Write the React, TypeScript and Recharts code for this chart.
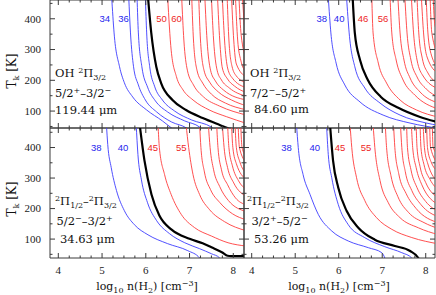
import React from "react";
import { LineChart, Line, XAxis, YAxis, ReferenceDot, ReferenceLine } from "recharts";

type Curve = [number, number][];

// ---------------- data (n = log10 n(H2), t = Tk) ----------------
const xTicks = [4, 4.25, 4.5, 4.75, 5, 5.25, 5.5, 5.75, 6, 6.25, 6.5, 6.75, 7, 7.25, 7.5, 7.75, 8];
const yTicks = [50, 100, 150, 200, 250, 300, 350, 400, 450];

// top-left: OH 2Pi3/2 5/2+-3/2- 119.44 um
const tlBlue: Curve[] = [
  [[5.22, 470], [5.275, 354], [5.4, 244], [5.51, 192], [5.7, 146], [6.02, 103.5], [6.38, 68], [6.59, 45], [6.62, 42]],
  [[5.61, 470], [5.65, 354], [5.72, 244], [5.83, 185], [5.99, 136], [6.25, 97], [6.59, 64.5], [6.93, 45], [6.96, 42]],
  [[5.8, 470], [5.83, 354], [5.91, 244], [6.04, 178], [6.22, 133], [6.5, 97], [6.89, 68], [7.23, 48], [7.28, 42]],
  [[5.99, 470], [6.02, 354], [6.09, 244], [6.2, 181], [6.38, 136], [6.66, 100], [7.05, 71], [7.5, 48], [7.56, 42]],
];
const tlBlack: Curve = [[6.05, 470], [6.125, 354], [6.24, 244], [6.35, 191], [6.61, 136], [6.92, 103.5], [7.3, 77.5], [7.69, 55], [7.87, 45], [7.95, 42]];
const tlRed: Curve[] = [
  [[6.5, 470], [6.58, 298], [6.7, 212], [6.85, 169], [7.08, 136], [7.46, 103], [7.84, 82], [8.3, 60]],
  [[6.82, 470], [6.87, 331], [6.95, 233], [7.09, 185], [7.32, 146], [7.69, 116], [8.3, 87]],
  [[7.05, 470], [7.09, 331], [7.17, 233], [7.3, 191], [7.5, 155], [7.82, 126], [8.3, 104]],
  [[7.21, 470], [7.25, 331], [7.33, 233], [7.46, 194], [7.66, 162], [7.96, 136], [8.3, 117]],
  [[7.35, 470], [7.4, 331], [7.48, 233], [7.59, 198], [7.78, 168], [8.3, 136]],
  [[7.5, 470], [7.55, 331], [7.63, 233], [7.73, 201], [7.91, 175], [8.3, 148]],
  [[7.64, 470], [7.69, 331], [7.75, 240], [7.87, 204], [8.03, 181], [8.3, 160]],
  [[7.75, 470], [7.8, 331], [7.87, 240], [7.98, 207], [8.3, 176]],
  [[7.86, 470], [7.9, 331], [7.97, 246], [8.07, 214], [8.3, 192]],
  [[7.96, 470], [8.01, 331], [8.07, 253], [8.3, 210]],
  [[8.05, 470], [8.1, 331], [8.17, 266], [8.3, 225]],
  [[8.13, 470], [8.18, 347], [8.3, 270]],
  [[8.21, 470], [8.25, 380]],
];
const tlLabels = [
  { n: 5.06, t: 400, text: "34", blue: true },
  { n: 5.49, t: 400, text: "36", blue: true },
  { n: 6.36, t: 400, text: "50", blue: false },
  { n: 6.7, t: 400, text: "60", blue: false },
];

// top-right: OH 2Pi3/2 7/2- - 5/2+ 84.60 um
const trBlue: Curve[] = [
  [[5.76, 470], [5.82, 354], [5.94, 256], [6.14, 185], [6.49, 129.5], [7.02, 87], [7.64, 61], [8.3, 44]],
  [[6.18, 470], [6.24, 354], [6.37, 244], [6.6, 175], [6.95, 126], [7.41, 87], [8.02, 61], [8.3, 53]],
];
const trBlack: Curve = [[6.32, 470], [6.37, 354], [6.49, 266], [6.67, 201], [6.97, 146], [7.38, 110], [7.87, 81], [8.3, 63]];
const trRed: Curve[] = [
  [[6.76, 470], [6.79, 354], [6.91, 256], [7.1, 191], [7.41, 136], [7.79, 103.5], [8.3, 80]],
  [[7.18, 470], [7.22, 354], [7.32, 266], [7.48, 201], [7.75, 152], [8.3, 106]],
  [[7.36, 470], [7.41, 354], [7.5, 266], [7.64, 207.5], [7.87, 162], [8.3, 126]],
  [[7.52, 470], [7.57, 354], [7.66, 266], [7.8, 211], [8.01, 172], [8.3, 145]],
  [[7.67, 470], [7.72, 354], [7.8, 266], [7.94, 214], [8.3, 172]],
  [[7.8, 470], [7.84, 354], [7.92, 272], [8.05, 224], [8.3, 190]],
  [[7.9, 470], [7.95, 354], [8.03, 276], [8.3, 220]],
  [[8.01, 470], [8.05, 354], [8.13, 282], [8.3, 240]],
  [[8.1, 470], [8.14, 354], [8.3, 280]],
  [[8.17, 470], [8.21, 380], [8.3, 350]],
];
const trLabels = [
  { n: 5.61, t: 400, text: "38", blue: true },
  { n: 6.01, t: 400, text: "40", blue: true },
  { n: 6.56, t: 400, text: "46", blue: false },
  { n: 7.02, t: 400, text: "56", blue: false },
];

// bottom-left: 2Pi1/2-2Pi3/2 5/2- - 3/2+ 34.63 um
const blBlue: Curve[] = [
  [[5.1, 475], [5.13, 410], [5.21, 334], [5.33, 259], [5.51, 193], [5.74, 147], [6.05, 114], [6.5, 85], [6.96, 62], [7.23, 38], [7.26, 30]],
  [[5.78, 475], [5.82, 377], [5.9, 294], [6.04, 219], [6.25, 160], [6.54, 118], [6.89, 88], [7.23, 68.5], [7.5, 52], [7.69, 38], [7.72, 30]],
];
const blBlack: Curve = [[5.86, 475], [5.97, 357], [6.13, 246], [6.31, 177], [6.59, 131], [7.0, 101], [7.3, 86], [7.5, 73], [7.75, 56], [7.87, 45.5], [7.95, 44], [8.3, 44]];
const blRed: Curve[] = [
  [[6.28, 475], [6.31, 400], [6.43, 311], [6.58, 246], [6.81, 181], [7.11, 138], [7.5, 110], [7.88, 88], [8.3, 77]],
  [[6.92, 475], [6.98, 400], [7.08, 311], [7.23, 246], [7.46, 196], [7.8, 157], [8.3, 127]],
  [[7.23, 475], [7.26, 400], [7.34, 320], [7.48, 262], [7.69, 220], [7.98, 183], [8.3, 163]],
  [[7.43, 475], [7.47, 400], [7.55, 327], [7.69, 272], [7.89, 226], [8.3, 190]],
  [[7.62, 475], [7.65, 400], [7.73, 327], [7.87, 278], [8.05, 235], [8.3, 212]],
  [[7.75, 475], [7.79, 400], [7.87, 334], [8.01, 284], [8.3, 240]],
  [[7.87, 475], [7.9, 400], [7.98, 340], [8.12, 291], [8.3, 262]],
  [[7.96, 475], [7.99, 400], [8.07, 347], [8.3, 295]],
  [[8.04, 475], [8.07, 400], [8.15, 353], [8.3, 315]],
  [[8.11, 475], [8.14, 400], [8.3, 350]],
  [[8.17, 475], [8.2, 400], [8.3, 370]],
];
const blLabels = [
  { n: 4.87, t: 400, text: "38", blue: true },
  { n: 5.48, t: 400, text: "40", blue: true },
  { n: 6.16, t: 400, text: "45", blue: false },
  { n: 6.81, t: 400, text: "55", blue: false },
];

// bottom-right: 2Pi1/2-2Pi3/2 3/2+ - 5/2- 53.26 um
const brBlue: Curve[] = [
  [[5.03, 475], [5.07, 400], [5.18, 312], [5.34, 246.5], [5.53, 181], [5.84, 126.5], [6.22, 93.7], [6.68, 71.8], [6.99, 55.4], [7.06, 38], [7.08, 30]],
  [[5.72, 475], [5.76, 377], [5.84, 301], [5.99, 213], [6.22, 147], [6.6, 104.6], [7.06, 75], [7.45, 55.4], [7.68, 38], [7.7, 30]],
];
const brBlack: Curve = [[5.8, 475], [5.87, 357], [5.99, 268.5], [6.18, 193], [6.45, 137.4], [6.83, 98], [7.29, 77.3], [7.64, 61], [7.83, 38], [7.85, 30]];
const brRed: Curve[] = [
  [[6.26, 475], [6.3, 400], [6.41, 301], [6.6, 226], [6.87, 170], [7.22, 132], [7.68, 105], [8.3, 84]],
  [[6.79, 475], [6.83, 400], [6.95, 291.5], [7.14, 219], [7.41, 170], [7.83, 137], [8.3, 114]],
  [[7.07, 475], [7.1, 400], [7.2, 308], [7.36, 239], [7.61, 186.5], [7.96, 154], [8.3, 134]],
  [[7.26, 475], [7.29, 400], [7.38, 314], [7.55, 249], [7.78, 200], [8.3, 153]],
  [[7.42, 475], [7.45, 400], [7.53, 321], [7.68, 259], [7.89, 213], [8.3, 172]],
  [[7.56, 475], [7.58, 400], [7.66, 327.5], [7.8, 268.5], [8.0, 223], [8.3, 190]],
  [[7.67, 475], [7.7, 400], [7.78, 334], [7.91, 278], [8.3, 212]],
  [[7.78, 475], [7.8, 400], [7.87, 337], [8.0, 285], [8.3, 235]],
  [[7.87, 475], [7.89, 400], [7.96, 344], [8.1, 295], [8.3, 260]],
  [[7.94, 475], [7.97, 400], [8.04, 350.5], [8.3, 285]],
  [[8.02, 475], [8.04, 400], [8.12, 354], [8.3, 320]],
  [[8.09, 475], [8.11, 400], [8.3, 345]],
  [[8.15, 475], [8.17, 400], [8.3, 375]],
];
const brLabels = [
  { n: 4.8, t: 400, text: "38", blue: true },
  { n: 5.45, t: 400, text: "40", blue: true },
  { n: 6.03, t: 400, text: "45", blue: false },
  { n: 6.63, t: 400, text: "55", blue: false },
];

// ---------------- styling ----------------
const W = 436;
const H = 295;
const FRAME = "#3a3a3a";
const BLUE = "#3c3cff";
const RED = "#ff3c3c";
const BLUE_TXT = "#2626ee";
const RED_TXT = "#ee2626";
const TICK_FONT = "'Liberation Serif', 'DejaVu Serif', serif";
const TXT_FONT = "'DejaVu Serif', 'Liberation Serif', serif";
const LBL_FONT = "'Liberation Sans', 'DejaVu Sans', sans-serif";

type PanelProps = {
  left: number; top: number; w: number; h: number;
  xDomain: [number, number]; yDomain: [number, number];
  blue: Curve[]; black: Curve; red: Curve[];
  labels: { n: number; t: number; text: string; blue: boolean }[];
  showX: boolean; showY: boolean;
};

const toPts = (c: Curve) => c.map(([n, t]) => ({ n, t }));

function Panel(p: PanelProps) {
  const xTick = (props: any) => {
    const v = props.payload.value as number;
    const major = Math.abs(v - Math.round(v)) < 1e-6;
    const len = major ? 5 : 2.5;
    const x = props.x, y = props.y;
    return (
      <g>
        <line x1={x} x2={x} y1={y} y2={y - len} stroke={FRAME} strokeWidth={1} />
        <line x1={x} x2={x} y1={y - p.h} y2={y - p.h + len} stroke={FRAME} strokeWidth={1} />
        {p.showX && major ? (
          <text x={x} y={y + 16} textAnchor="middle" fontFamily={TICK_FONT} fontSize={11} fill="#222">{v}</text>
        ) : null}
      </g>
    );
  };
  const yTick = (props: any) => {
    const v = props.payload.value as number;
    const major = v % 100 === 0;
    const len = major ? 5 : 2.5;
    const x = props.x, y = props.y;
    return (
      <g>
        <line x1={x} x2={x + len} y1={y} y2={y} stroke={FRAME} strokeWidth={1} />
        <line x1={x + p.w} x2={x + p.w - len} y1={y} y2={y} stroke={FRAME} strokeWidth={1} />
        {p.showY && major ? (
          <text x={x - 9} y={y + 3.8} textAnchor="end" fontFamily={TICK_FONT} fontSize={11} fill="#222">{v}</text>
        ) : null}
      </g>
    );
  };
  return (
    <div style={{ position: "absolute", left: 0, top: 0 }}>
      <LineChart
        width={W}
        height={H}
        margin={{ top: p.top, left: p.left - 1, right: W - p.left - p.w, bottom: H - p.top - p.h - 1 }}
      >
        <XAxis
          type="number" dataKey="n" domain={p.xDomain} allowDataOverflow ticks={xTicks} interval={0}
          height={1} tickSize={0} tickMargin={0} tickLine={false}
          axisLine={{ stroke: FRAME, strokeWidth: 1 }} tick={xTick}
        />
        <YAxis
          type="number" dataKey="t" domain={p.yDomain} allowDataOverflow ticks={yTicks} interval={0}
          width={1} tickSize={0} tickMargin={0} tickLine={false}
          axisLine={{ stroke: FRAME, strokeWidth: 1 }} tick={yTick}
        />
        <ReferenceLine y={p.yDomain[1]} stroke={FRAME} strokeWidth={1} />
        <ReferenceLine x={p.xDomain[1]} stroke={FRAME} strokeWidth={1} />
        {p.red.map((c, i) => (
          <Line key={"r" + i} data={toPts(c)} dataKey="t" type="monotoneX" stroke={RED} strokeWidth={0.9}
            dot={false} activeDot={false} isAnimationActive={false} />
        ))}
        {p.blue.map((c, i) => (
          <Line key={"b" + i} data={toPts(c)} dataKey="t" type="monotoneX" stroke={BLUE} strokeWidth={0.9}
            dot={false} activeDot={false} isAnimationActive={false} />
        ))}
        <Line data={toPts(p.black)} dataKey="t" type="monotoneX" stroke="#000" strokeWidth={2.2}
          dot={false} activeDot={false} isAnimationActive={false} />
        {p.labels.map((l, i) => (
          <ReferenceDot key={"l" + i} x={l.n} y={l.t} r={0}
            shape={(sp: any) => (
              <text x={sp.cx} y={sp.cy + 3.4} textAnchor="middle" fontFamily={LBL_FONT} fontSize={9.5}
                fill={l.blue ? BLUE_TXT : RED_TXT}>{l.text}</text>
            )} />
        ))}
      </LineChart>
    </div>
  );
}

const SUP = 8;
function Annotations() {
  const base = { fontFamily: TXT_FONT, fontSize: 11.5, fill: "#111" } as any;
  const title = { fontFamily: TXT_FONT, fontSize: 11, fill: "#111" } as any;
  const ytitle = { fontFamily: TXT_FONT, fontSize: 12, fill: "#111" } as any;
  const ohLine = (x: number, y: number) => (
    <text x={x} y={y} {...base}>
      OH <tspan dy={-4.5} fontSize={SUP}>2</tspan><tspan dy={4.5}>Π</tspan><tspan dy={3} fontSize={SUP}>3/2</tspan>
    </text>
  );
  const piLine = (x: number, y: number) => (
    <text x={x} y={y} {...base}>
      <tspan dy={-4.5} fontSize={SUP}>2</tspan><tspan dy={4.5}>Π</tspan><tspan dy={3} fontSize={SUP}>1/2</tspan>
      <tspan dy={-3}>–</tspan><tspan dy={-4.5} fontSize={SUP}>2</tspan><tspan dy={4.5}>Π</tspan>
      <tspan dy={3} fontSize={SUP}>3/2</tspan>
    </text>
  );
  const trans = (x: number, y: number, a: string, sa: string, b: string, sb: string) => (
    <text x={x} y={y} {...base}>
      {a}<tspan dy={-4.5} fontSize={SUP}>{sa}</tspan><tspan dy={4.5}>{"–" + b}</tspan>
      <tspan dy={-4.5} fontSize={SUP}>{sb}</tspan>
    </text>
  );
  const xTitle = (cx: number) => (
    <text x={cx} y={290} textAnchor="middle" {...title}>
      log<tspan dy={3} fontSize={SUP}>10</tspan><tspan dy={-3}> n(H</tspan><tspan dy={3} fontSize={SUP}>2</tspan>
      <tspan dy={-3}>) [cm</tspan><tspan dy={-4.5} fontSize={SUP}>−3</tspan><tspan dy={4.5}>]</tspan>
    </text>
  );
  const yTitle = (cy: number) => (
    <text x={16} y={cy} textAnchor="middle" transform={`rotate(-90 16 ${cy})`} {...ytitle}>
      T<tspan dy={3} fontSize={SUP}>k</tspan><tspan dy={-3}> [K]</tspan>
    </text>
  );
  return (
    <svg width={W} height={H} style={{ position: "absolute", left: 0, top: 0, pointerEvents: "none" }}>
      {ohLine(55, 77)}
      {trans(55, 97, "5/2", "+", "3/2", "−")}
      <text x={55} y={114} {...base}>119.44 μm</text>

      {ohLine(250, 77)}
      {trans(250, 97, "7/2", "−", "5/2", "+")}
      <text x={254} y={113} {...base}>84.60 μm</text>

      {piLine(55, 205)}
      {trans(56.5, 225, "5/2", "−", "3/2", "+")}
      <text x={60} y={243} {...base}>34.63 μm</text>

      {piLine(247, 205)}
      {trans(251.5, 225, "3/2", "+", "5/2", "−")}
      <text x={254} y={243} {...base}>53.26 μm</text>

      {xTitle(147)}
      {xTitle(339)}
      {yTitle(71)}
      {yTitle(199)}
    </svg>
  );
}

export default function App() {
  return (
    <div style={{ position: "absolute", left: 0, top: 0, width: W, height: H, background: "#fff", overflow: "hidden" }}>
      <Panel left={50} top={0} w={194} h={128} xDomain={[3.81, 8.245]} yDomain={[45, 461]}
        blue={tlBlue} black={tlBlack} red={tlRed} labels={tlLabels} showX={false} showY={true} />
      <Panel left={244} top={0} w={191} h={128} xDomain={[3.823, 8.213]} yDomain={[45, 461]}
        blue={trBlue} black={trBlack} red={trRed} labels={trLabels} showX={false} showY={false} />
      <Panel left={50} top={128} w={194} h={130} xDomain={[3.81, 8.245]} yDomain={[38, 464]}
        blue={blBlue} black={blBlack} red={blRed} labels={blLabels} showX={true} showY={true} />
      <Panel left={244} top={128} w={191} h={130} xDomain={[3.823, 8.213]} yDomain={[38, 464]}
        blue={brBlue} black={brBlack} red={brRed} labels={brLabels} showX={true} showY={false} />
      <Annotations />
    </div>
  );
}
